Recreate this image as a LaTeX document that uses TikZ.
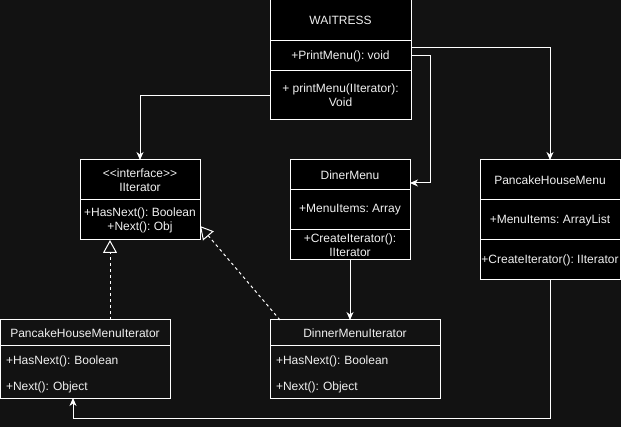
\documentclass[tikz,border=0pt]{standalone}
\usepackage{fontspec}
\setmainfont{Liberation Sans}
\usetikzlibrary{arrows.meta}
\definecolor{bg}{HTML}{121212}
\definecolor{ink}{HTML}{F0F0F0}
\frenchspacing

\begin{document}
\begin{tikzpicture}[x=1pt,y=-1pt,
  box/.style={draw=white,line width=1pt,fill=black,text=ink,inner sep=0pt,outer sep=0pt,
    anchor=north west,align=center,font=\fontsize{12}{14}\selectfont},
  openbox/.style={box,fill=none},
  rows/.style={openbox,inner xsep=6pt,text width=158pt,align=left,minimum width=170pt,minimum height=52pt},
  link/.style={draw=white,line width=1pt,-{Stealth[length=8pt,width=7pt,inset=2.5pt]}},
  realize/.style={draw=white,line width=1pt,dash pattern=on 3pt off 3pt,-{Triangle[open,length=13pt,width=14pt]}}]
\useasboundingbox (0,0) rectangle (621,427);
\fill[bg] (0,0) rectangle (621,427);

\node[box,minimum width=141pt,minimum height=41pt] (w1) at (270,0) {WAITRESS};
\node[box,minimum width=141pt,minimum height=30pt] (w2) at (270,41) {+PrintMenu(): void};
\node[box,minimum width=141pt,minimum height=49pt] (w3) at (270,71) {+ printMenu(IIterator):\\Void};

\node[box,minimum width=120pt,minimum height=40pt] (it1) at (80,160) {\textless{}\textless{}interface\textgreater{}\textgreater{}\\IIterator};
\node[box,minimum width=120pt,minimum height=40pt] (it2) at (80,200) {+HasNext(): Boolean\\+Next(): Obj};

\node[box,minimum width=120pt,minimum height=30pt] (dm1) at (290,160) {DinerMenu};
\node[box,minimum width=120pt,minimum height=40pt] (dm2) at (290,190) {+MenuItems: Array};
\node[box,minimum width=120pt,minimum height=30pt] (dm3) at (290,230) {+CreateIterator():\\IIterator};

\node[box,minimum width=140pt,minimum height=40pt] (ph1) at (480,160) {PancakeHouseMenu};
\node[box,minimum width=140pt,minimum height=40pt] (ph2) at (480,200) {+MenuItems: ArrayList};
\node[box,minimum width=140pt,minimum height=40pt] (ph3) at (480,240) {+CreateIterator(): IIterator};

\node[openbox,minimum width=170pt,minimum height=26pt] (phi1) at (0,320) {PancakeHouseMenuIterator};
\node[rows] (phi2) at (0,346) {\rule{0pt}{12.7pt}+HasNext(): Boolean\\[12pt]+Next(): Object};

\node[openbox,minimum width=170pt,minimum height=26pt] (dmi1) at (270,320) {DinnerMenuIterator};
\node[rows] (dmi2) at (270,346) {\rule{0pt}{12.7pt}+HasNext(): Boolean\\[12pt]+Next(): Object};

\draw[link] (w3.west) -| (it1.north);
\draw[link] (w2.east) -- ++(19,0) |- ([yshift=7pt]dm1.south east);
\draw[link] ([yshift=-7pt]w2.north east) -| (ph1.north);
\draw[link] (dm3.south) -- (dm3.south |- dmi1.north);
\draw[link] (ph3.south) -- ++(0,138) -| ([xshift=-12pt]phi2.south);
\draw[realize] ([xshift=25pt]phi1.north) -- ([xshift=-30pt]it2.south);
\draw[realize] ([xshift=10pt]dmi1.north west) -- ([yshift=-6pt]it2.east);
\end{tikzpicture}
\end{document}
